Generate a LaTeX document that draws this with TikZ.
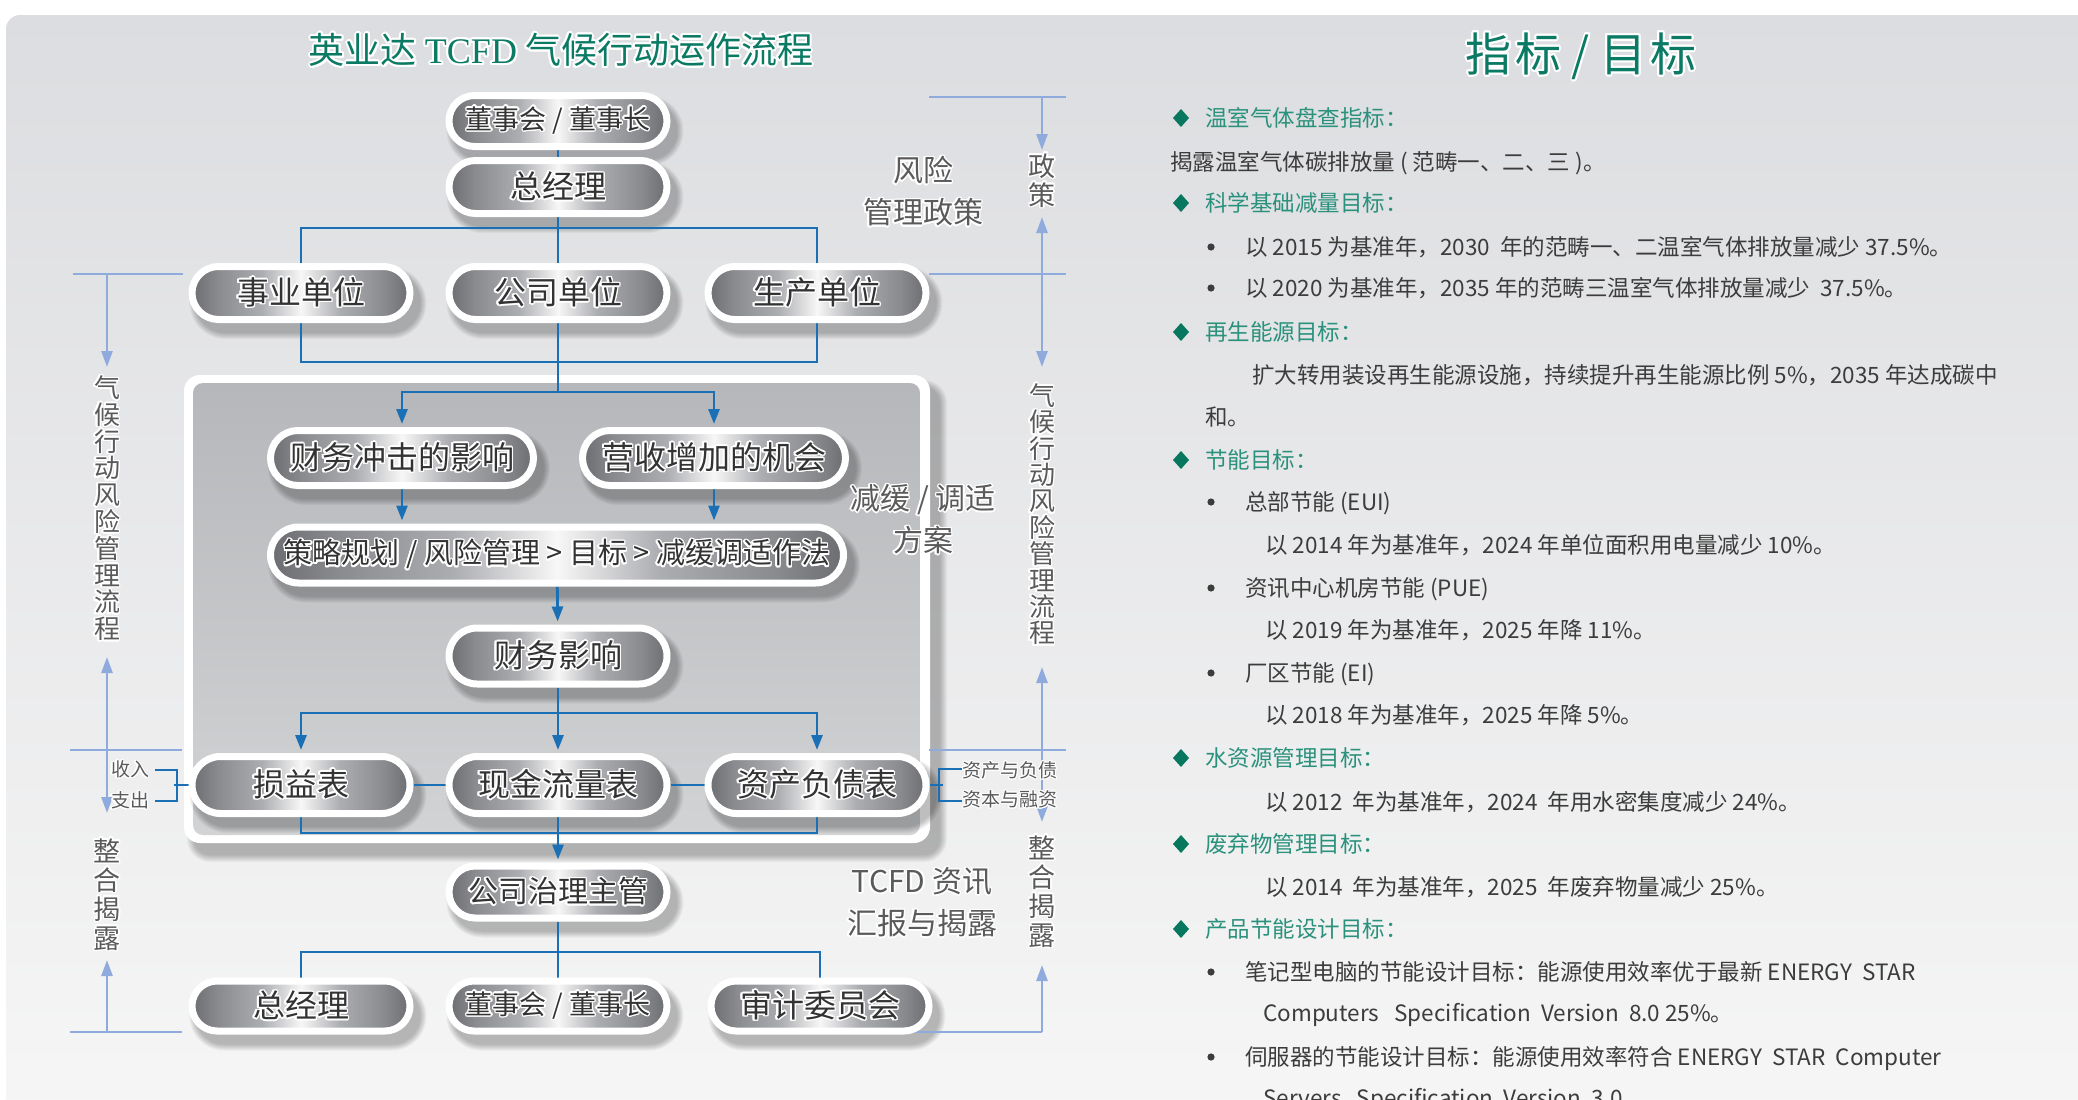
\documentclass[tikz,border=0pt]{standalone}
\usepackage{fontspec}
\setmainfont{Noto Sans CJK SC}
\newfontfamily\lserif{Liberation Serif}
\usepackage{contour}
\contourlength{1.5pt}
\usetikzlibrary{arrows.meta,calc}
\definecolor{conncol}{HTML}{1B6FB5}
\definecolor{sidecol}{HTML}{8FAADC}
\definecolor{ttlcol}{HTML}{0B7A64}
\definecolor{headcol}{HTML}{2A917C}
\definecolor{diacol}{HTML}{08775F}
\definecolor{bodycol}{HTML}{3C3C3C}
\definecolor{labcol}{HTML}{5A5A5A}
\definecolor{pilltext}{HTML}{333333}
\definecolor{pdark}{HTML}{6C6D71}
\definecolor{pdm}{HTML}{8A8B8F}
\definecolor{pmid}{HTML}{ACADB1}
\definecolor{plight}{HTML}{F7F7F7}
\definecolor{bgtop}{HTML}{DCDDE0}
\definecolor{bgbot}{HTML}{F6F6F6}
\definecolor{boxtop}{HTML}{B6B7BA}
\definecolor{boxbot}{HTML}{D2D3D5}
\pgfdeclarehorizontalshading{pillshade}{100bp}{color(0bp)=(pdark); color(25bp)=(pdark); color(31bp)=(pdm); color(41bp)=(pmid); color(50bp)=(plight); color(59bp)=(pmid); color(69bp)=(pdm); color(75bp)=(pdark); color(100bp)=(pdark)}
\pgfdeclarelayer{bgl}
\pgfdeclarelayer{shad}
\pgfdeclarelayer{conn}
\pgfsetlayers{bgl,shad,conn,main}
\newcommand\cw[1]{\contour{white}{#1}}
\newcommand\pill[7]{%
  \begin{pgfonlayer}{shad}
    \foreach \k in {0,...,6}{
      \fill[pillshadow, rounded corners={#5/2+3.5+\k}]
        (#2+7-#4/2-3.5-\k, #3+10-#5/2-3.5-\k) rectangle (#2+7+#4/2+3.5+\k, #3+10+#5/2+3.5+\k);
    }
  \end{pgfonlayer}
  \node[pillnode, minimum width=#4, minimum height=#5, rounded corners={#5/2}, font=\fontsize{#6}{#6}\selectfont] (#1) at (#2,#3) {\contour{white}{#7}};
}
\begin{document}
\begin{tikzpicture}[x=1pt,y=-1pt,
  pillnode/.style={rectangle, draw=white, line width=7pt, shade, shading=pillshade, inner sep=0pt, text=pilltext},
  pillshadow/.style={black, opacity=0.04},
  conn/.style={draw=conncol, line width=2.8pt},
  arr/.style={conn, -{Triangle[length=15pt,width=11pt]}, shorten >=3pt},
  side/.style={draw=sidecol, line width=2.6pt},
  sidearr/.style={side, -{Triangle[length=16pt,width=11pt]}},
  ttl/.style={text=ttlcol, inner sep=0},
  lab/.style={align=center, text=labcol, font=\fontsize{30}{42}\selectfont, inner sep=0},
  sidetext/.style={align=center, text=labcol, inner sep=0},
  small/.style={text=labcol, font=\fontsize{19}{19}\selectfont, inner sep=0},
  head/.style={anchor=base west, text=headcol, font=\fontsize{22.5}{22.5}\selectfont, inner sep=0},
  body/.style={anchor=base west, text=bodycol, font=\fontsize{22.5}{22.5}\selectfont, inner sep=0},
  dia/.style={fill=diacol},
  dot/.style={fill=bodycol}
]
\useasboundingbox (0,0) rectangle (2078,1100);
\begin{pgfonlayer}{bgl}
  \fill[white] (0,0) rectangle (2078,1100);
  \shade[top color=bgtop, bottom color=bgbot, rounded corners=14] (6,15) rectangle (2100,1120);
  \foreach \k in {0,...,7}{
    \fill[black, opacity=0.035, rounded corners={16+\k}] (184+10-\k,375+12-\k) rectangle (930+10+\k,843+12+\k);
  }
  \fill[white, rounded corners=16] (184,375) rectangle (930,843);
  \shade[top color=boxtop, bottom color=boxbot, rounded corners=10] (193,383) rectangle (920,835);
\end{pgfonlayer}

% titles
\node[ttl, font=\fontsize{36}{36}\selectfont] (t1) at (561,51) {\contourlength{2pt}\contour{white}{英业达 {\lserif TCFD} 气候行动运作流程}};
\node[ttl, font=\fontsize{46}{46}\selectfont] (t2) at (1581,57) {\contourlength{1.9pt}\contour{white}{指\kern4pt 标 / 目\kern4pt 标}};

% flow nodes
\pill{n1}{558}{121}{218}{51}{27}{董事会 / 董事长}
\pill{n2}{558}{187}{218}{53}{32}{总经理}
\pill{b1}{301}{293}{218}{53}{32}{事业单位}
\pill{b2}{558}{293}{218}{53}{32}{公司单位}
\pill{b3}{817}{293}{218}{53}{32}{生产单位}
\pill{f1}{402}{458}{263}{55}{32}{财务冲击的影响}
\pill{f2}{714}{458}{263}{55}{32}{营收增加的机会}
\pill{s}{557}{555}{573}{56}{29}{策略规划 / 风险管理 > 目标 > 减缓调适作法}
\pill{fi}{558}{656}{218}{56}{32}{财务影响}
\pill{r1}{301}{785}{218}{57}{32}{损益表}
\pill{r2}{558}{785}{218}{57}{32}{现金流量表}
\pill{r3}{817}{785}{218}{57}{32}{资产负债表}
\pill{g}{558}{892}{218}{52}{30}{公司治理主管}
\pill{e1}{301}{1006}{218}{50}{32}{总经理}
\pill{e2}{558}{1006}{218}{50}{27}{董事会 / 董事长}
\pill{e3}{820}{1006}{218}{50}{32}{审计委员会}

% labels
\node[lab] (lp) at (923,192) {\cw{风险}\\\cw{管理政策}};
\node[lab] (lm) at (923,520) {\cw{减缓 / 调适}\\\cw{方案}};
\node[lab] (lt) at (922,903) {\cw{TCFD 资讯}\\\cw{汇报与揭露}};
\node[sidetext, font=\fontsize{26}{26.8}\selectfont] (lv1) at (107,509) {\cw{气}\\\cw{候}\\\cw{行}\\\cw{动}\\\cw{风}\\\cw{险}\\\cw{管}\\\cw{理}\\\cw{流}\\\cw{程}};
\node[sidetext, font=\fontsize{27}{29}\selectfont] (lv2) at (107,895) {\cw{整}\\\cw{合}\\\cw{揭}\\\cw{露}};
\node[sidetext, font=\fontsize{27}{29}\selectfont] (rv0) at (1042,181) {\cw{政}\\\cw{策}};
\node[sidetext, font=\fontsize{26}{26.4}\selectfont] (rv1) at (1042,515) {\cw{气}\\\cw{候}\\\cw{行}\\\cw{动}\\\cw{风}\\\cw{险}\\\cw{管}\\\cw{理}\\\cw{流}\\\cw{程}};
\node[sidetext, font=\fontsize{27}{29}\selectfont] (rv2) at (1042,892) {\cw{整}\\\cw{合}\\\cw{揭}\\\cw{露}};
\node[small] (inc) at (130,770) {\contourlength{1.2pt}\cw{收入}};
\node[small] (exp) at (130,801) {\contourlength{1.2pt}\cw{支出}};
\node[small] (al) at (1010,771) {\contourlength{1.2pt}\cw{资产与负债}};
\node[small] (cf) at (1010,800) {\contourlength{1.2pt}\cw{资本与融资}};

\begin{pgfonlayer}{conn}
  \coordinate (j1) at (558,228);
  \coordinate (j2) at (558,362);
  \coordinate (j3) at (558,392);
  \coordinate (j4) at (558,713);
  \coordinate (j5) at (558,833);
  \coordinate (j6) at (558,952);
  \draw[conn] (n1) -- (n2);
  \draw[conn] (n2) -- (b2);
  \draw[conn] (b1.north) |- (j1) -| (b3.north);
  \draw[conn] (b1.south) |- (j2) -| (b3.south);
  \draw[conn] (b2.south) -- (j3);
  \draw[arr] (j3) -| (f1.north);
  \draw[arr] (j3) -| (f2.north);
  \draw[arr] (f1.south) -- (f1.south |- s.north);
  \draw[arr] (f2.south) -- (f2.south |- s.north);
  \draw[arr] (s) -- (fi);
  \draw[arr] (fi) -- (r2);
  \draw[arr] (j4) -| (r1.north);
  \draw[arr] (j4) -| (r3.north);
  \draw[conn] (r1) -- (r2);
  \draw[conn] (r2) -- (r3);
  \draw[conn] (r1.south) |- (j5) -| (r3.south);
  \draw[arr] (r2) -- (g);
  \draw[conn] (g) -- (e2);
  \draw[conn] (e1.north) |- (j6) -| (e3.north);
  % brackets
  \coordinate (lbT) at (155,770);
  \coordinate (lbB) at (155,801);
  \draw[conn] (lbT) -- ++(22,0) |- (lbB);
  \draw[conn] (r1.west) -- ++(-15,0);
  \coordinate (rbT) at (962,769);
  \coordinate (rbB) at (962,801);
  \draw[conn] (rbT) -- ++(-23,0) |- (rbB);
  \draw[conn] (r3.east) -- ++(13,0);
  % left side
  \coordinate (LA1) at (73,274);  \coordinate (LA2) at (183,274);
  \coordinate (LX1) at (107,274); \coordinate (LX2) at (107,367);
  \coordinate (LB1) at (70,750);  \coordinate (LB2) at (182,750);
  \coordinate (LX3) at (107,750); \coordinate (LX4) at (107,657); \coordinate (LX5) at (107,813);
  \coordinate (LC1) at (70,1032); \coordinate (LC2) at (182,1032);
  \coordinate (LX6) at (107,1032); \coordinate (LX7) at (107,960);
  \draw[side] (LA1) -- (LA2);
  \draw[sidearr] (LX1) -- (LX2);
  \draw[side] (LB1) -- (LB2);
  \draw[sidearr] (LX3) -- (LX4);
  \draw[sidearr] (LX3) -- (LX5);
  \draw[side] (LC1) -- (LC2);
  \draw[sidearr] (LX6) -- (LX7);
  % right side
  \coordinate (RA1) at (929,97);   \coordinate (RA2) at (1066,97);
  \coordinate (RX1) at (1042,97);  \coordinate (RX2) at (1042,150);
  \coordinate (RB1) at (929,274);  \coordinate (RB2) at (1066,274);
  \coordinate (RX3) at (1042,274); \coordinate (RX4) at (1042,217); \coordinate (RX5) at (1042,367);
  \coordinate (RC1) at (929,750);  \coordinate (RC2) at (1066,750);
  \coordinate (RX6) at (1042,750); \coordinate (RX7) at (1042,667); \coordinate (RX8) at (1042,822);
  \coordinate (RD1) at (891,1032); \coordinate (RD2) at (1042,1032);
  \coordinate (RX10) at (1042,965);
  \draw[side] (RA1) -- (RA2);
  \draw[sidearr] (RX1) -- (RX2);
  \draw[side] (RB1) -- (RB2);
  \draw[sidearr] (RX3) -- (RX4);
  \draw[sidearr] (RX3) -- (RX5);
  \draw[side] (RC1) -- (RC2);
  \draw[sidearr] (RX6) -- (RX7);
  \draw[sidearr] (RX6) -- (RX8);
  \draw[side] (RD1) -- (RD2);
  \draw[sidearr] (RD2) -- (RX10);
\end{pgfonlayer}

% right panel
\foreach \yy in {118,203,332,460,758,844,929}{
  \fill[dia] (1181,\yy-9) -- (1189,\yy) -- (1181,\yy+9) -- (1173,\yy) -- cycle;
}
\foreach \yy in {247,288,502,588,673,972,1057}{
  \fill[dot] (1211,\yy) circle (3.6);
}
\node[head] (h1) at (1205,126.5) {温室气体盘查指标：};
\node[body] (l2) at (1170,170.5) {揭露温室气体碳排放量 ( 范畴一、二、三 )。};
\node[head] (h2) at (1205,211.5) {科学基础减量目标：};
\node[body] (l4) at (1245,255.5) {以 2015 为基准年，2030\ \ 年的范畴一、二温室气体排放量减少 37.5\%。};
\node[body] (l5) at (1245,296.5) {以 2020 为基准年，2035 年的范畴三温室气体排放量减少\ \ 37.5\%。};
\node[head] (h3) at (1205,340.5) {再生能源目标：};
\node[body] (l7) at (1252,383.5) {扩大转用装设再生能源设施，持续提升再生能源比例 5\%，2035 年达成碳中};
\node[body] (l8) at (1205,425.5) {和。};
\node[head] (h4) at (1205,468.5) {节能目标：};
\node[body] (l10) at (1245,510.5) {总部节能 (EUI)};
\node[body] (l11) at (1265,553.5) {以 2014 年为基准年，2024 年单位面积用电量减少 10\%。};
\node[body] (l12) at (1245,596.5) {资讯中心机房节能 (PUE)};
\node[body] (l13) at (1265,638.5) {以 2019 年为基准年，2025 年降 11\%。};
\node[body] (l14) at (1245,681.5) {厂区节能 (EI)};
\node[body] (l15) at (1265,723.5) {以 2018 年为基准年，2025 年降 5\%。};
\node[head] (h5) at (1205,766.5) {水资源管理目标：};
\node[body] (l17) at (1265,810.5) {以 2012\ \ 年为基准年，2024\ \ 年用水密集度减少 24\%。};
\node[head] (h6) at (1205,852.5) {废弃物管理目标：};
\node[body] (l19) at (1265,895.5) {以 2014\ \ 年为基准年，2025\ \ 年废弃物量减少 25\%。};
\node[head] (h7) at (1205,937.5) {产品节能设计目标：};
\node[body] (l21) at (1245,980.5) {笔记型电脑的节能设计目标：能源使用效率优于最新 ENERGY\ \ STAR};
\node[body] (l22) at (1263,1021.5) {Computers\ \ \ Specification\ \ Version\ \ 8.0 25\%。};
\node[body] (l23) at (1245,1065.5) {伺服器的节能设计目标：能源使用效率符合 ENERGY\ \ STAR\ \ Computer};
\node[body] (l24) at (1263,1106.5) {Servers\ \ \ Specification\ \ Version\ \ 3.0。};
\end{tikzpicture}
\end{document}
